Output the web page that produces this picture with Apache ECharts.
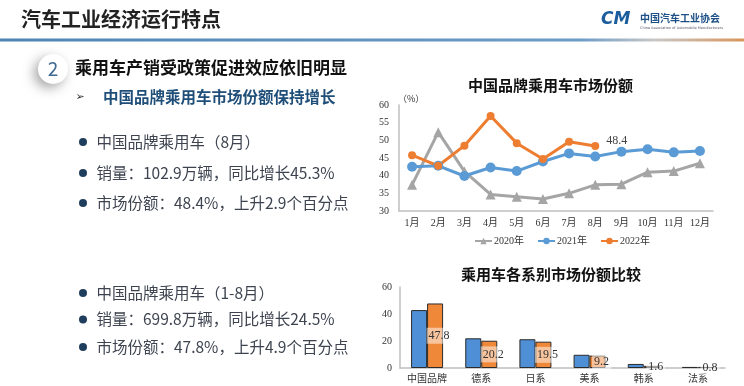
<!DOCTYPE html>
<html><head><meta charset="utf-8">
<script src="https://cdn.jsdelivr.net/npm/echarts@6/dist/echarts.min.js"></script>
<style>html,body{margin:0;padding:0;background:#fff;}#c{width:744px;height:386px;}</style>
</head><body><div id="c"></div>
<script>
const months = ['1月','2月','3月','4月','5月','6月','7月','8月','9月','10月','11月','12月'];
const share2020 = [37.4, 52.3, 41.2, 34.7, 34.0, 33.4, 35.0, 37.4, 37.6, 41.0, 41.3, 43.5];
const share2021 = [42.5, 42.8, 39.9, 42.3, 41.3, 44.0, 46.3, 45.4, 46.8, 47.5, 46.6, 47.0];
const share2022 = [45.8, 42.8, 48.5, 56.9, 49.2, 44.7, 49.6, 48.4];
const lineSeriesNames = ['2020年','2021年','2022年'];
const systems = ['中国品牌','德系','日系','美系','韩系','法系'];
const sysShare2021 = [42.9, 22.0, 21.3, 9.8, 3.0, 0.8];
const sysShare2022 = [47.8, 20.2, 19.5, 9.2, 1.6, 0.8];
const textLines1 = ['中国品牌乘用车（8月）','销量：102.9万辆，同比增长45.3%','市场份额：48.4%，上升2.9个百分点'];
const textLines2 = ['中国品牌乘用车（1-8月）','销量：699.8万辆，同比增长24.5%','市场份额：47.8%，上升4.9个百分点'];

const CJK = "'Noto Sans CJK SC', sans-serif";
const SERIF = "'Liberation Serif','Noto Sans CJK SC', serif";
const chart = echarts.init(document.getElementById('c'));

const graphics = [
  {type:'text', left:21, top:9, style:{text:'汽车工业经济运行特点', font:"bold 20px "+CJK, fill:'#222'}},
  {type:'rect', shape:{x:0,y:38.5,width:744,height:3}, style:{fill:new echarts.graphic.LinearGradient(0,0,1,0,[
    {offset:0,color:'#4e84b4'},{offset:0.78,color:'#6c9cc6'},{offset:0.88,color:'#c8c8c8'},{offset:1,color:'#d9955a'}])}},
  {type:'text', left:601, top:11, style:{text:'CM', font:"italic bold 17px 'DejaVu Sans'", fill:'#1c5d9e'}},
  {type:'text', left:640, top:13, style:{text:'中国汽车工业协会', font:"bold 10px "+CJK, fill:'#1c4f86'}},
  {type:'text', left:640, top:26, style:{text:'China Association of Automobile Manufacturers', font:"3.5px 'DejaVu Sans'", fill:'#556'}},
  {type:'circle', shape:{cx:53, cy:69, r:15}, style:{fill:'#fff', shadowBlur:12, shadowColor:'rgba(0,0,0,0.35)', shadowOffsetX:-4, shadowOffsetY:4}},
  {type:'text', x:53, y:69, style:{text:'2', font:"19px "+CJK, fill:'#3f6a93', align:'center', verticalAlign:'middle'}},
  {type:'text', x:75, y:68, style:{text:'乘用车产销受政策促进效应依旧明显', font:"bold 17px "+CJK, fill:'#111', verticalAlign:'middle'}},
  {type:'text', x:80, y:97, style:{text:'➢', font:"11px 'DejaVu Sans'", fill:'#333', align:'center', verticalAlign:'middle'}},
  {type:'text', x:103, y:97, style:{text:'中国品牌乘用车市场份额保持增长', font:"bold 15.5px "+CJK, fill:'#1f4e79', verticalAlign:'middle'}},
  {type:'text', left:468, top:78, style:{text:'中国品牌乘用车市场份额', font:"bold 15px "+CJK, fill:'#111'}},
  {type:'text', left:398, top:94, style:{text:'（%）', font:"9px "+CJK, fill:'#333'}},
  {type:'text', left:461, top:267, style:{text:'乘用车各系别市场份额比较', font:"bold 15px "+CJK, fill:'#111'}}
];
const ys1 = [142, 173, 203], ys2 = [293, 319.5, 347];
[[textLines1, ys1],[textLines2, ys2]].forEach(([lines, ys]) => {
  lines.forEach((t, i) => {
    graphics.push({type:'circle', shape:{cx:83, cy:ys[i], r:4}, style:{fill:'#1f3d5c'}});
    graphics.push({type:'text', x:96.5, y:ys[i], style:{text:t, font:"15.5px "+CJK, fill:'#3d4450', verticalAlign:'middle'}});
  });
});

const axisLabelStyle = {color:'#333', fontSize:10, fontFamily:SERIF};
const option = {
  backgroundColor:'#fff',
  animation:false,
  graphic: graphics,
  legend: {
    data: lineSeriesNames, left: 469, top: 231, itemWidth: 17, itemHeight: 8, itemGap: 13,
    textStyle: {color:'#333', fontSize:10, fontFamily:SERIF, padding:[0,0,0,-3]}
  },
  grid: [
    {left:399, right:31, top:105, bottom:175},
    {left:400, right:19, top:287, bottom:18}
  ],
  xAxis: [
    {type:'category', gridIndex:0, data:months, boundaryGap:true,
     axisLine:{lineStyle:{color:'#bfbfbf', width:1.5}}, axisTick:{show:false},
     axisLabel:Object.assign({margin:7}, axisLabelStyle)},
    {type:'category', gridIndex:1, data:systems,
     axisLine:{lineStyle:{color:'#bfbfbf', width:1.5}}, axisTick:{show:false},
     axisLabel:Object.assign({margin:6}, axisLabelStyle)}
  ],
  yAxis: [
    {type:'value', gridIndex:0, min:30, max:60, interval:5,
     axisLine:{show:true, lineStyle:{color:'#bfbfbf', width:1.5}}, splitLine:{show:false},
     axisLabel:Object.assign({margin:10}, axisLabelStyle)},
    {type:'value', gridIndex:1, min:0, max:60, interval:20,
     axisLine:{show:true, lineStyle:{color:'#bfbfbf', width:1.5}}, splitLine:{show:false},
     axisLabel:Object.assign({margin:8}, axisLabelStyle)}
  ],
  series: [
    {name:lineSeriesNames[0], type:'line', xAxisIndex:0, yAxisIndex:0, data:share2020,
     symbol:'triangle', symbolSize:10, lineStyle:{color:'#a5a5a5', width:3},
     itemStyle:{color:'#a5a5a5'}},
    {name:lineSeriesNames[1], type:'line', xAxisIndex:0, yAxisIndex:0, data:share2021,
     symbol:'circle', symbolSize:10, lineStyle:{color:'#5b9bd5', width:3},
     itemStyle:{color:'#5b9bd5'}},
    {name:lineSeriesNames[2], type:'line', xAxisIndex:0, yAxisIndex:0,
     data:share2022.map((v,i)=> i===share2022.length-1 ? {value:v, label:{show:true, position:'right', offset:[2,-5], formatter:'{c}', color:'#444', fontSize:12, fontFamily:SERIF}} : v),
     symbol:'circle', symbolSize:8, lineStyle:{color:'#ed7d31', width:3},
     itemStyle:{color:'#ed7d31'}},
    {name:'2021', type:'bar', xAxisIndex:1, yAxisIndex:1, data:sysShare2021,
     barWidth:16, barGap:'0%',
     itemStyle:{color:'#4e8fd6', borderColor:'#2b2b2b', borderWidth:1}},
    {name:'2022', type:'bar', xAxisIndex:1, yAxisIndex:1, data:sysShare2022,
     barWidth:16,
     itemStyle:{color:'#f0883a', borderColor:'#2b2b2b', borderWidth:1},
     label:{show:true, position:'inside', color:'#333', fontSize:12, fontFamily:SERIF,
       backgroundColor:'rgba(255,255,255,0.5)', padding:[2,2], offset:[4,0]}}
  ]
};
chart.setOption(option);
</script></body></html>
